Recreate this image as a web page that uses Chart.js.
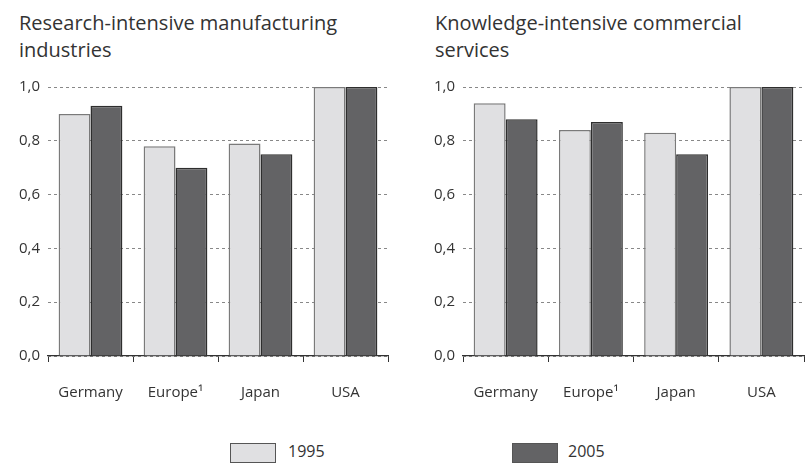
<!DOCTYPE html>
<html><head><meta charset="utf-8">
<script src="https://cdn.jsdelivr.net/npm/chart.js@4/dist/chart.umd.min.js"></script>
<style>
body{margin:0;background:#fff;width:811px;height:465px;position:relative;overflow:hidden;font-family:"Open Sans",sans-serif;color:#333}
.t{position:absolute;font-size:20px;line-height:27px;color:#333}
.c{position:absolute}
.lg{position:absolute;top:443px;height:18px;width:44px;border:1px solid #555}
.lt{position:absolute;top:440px;font-size:16px;color:#333}
</style></head><body>
<div class="t" style="left:19px;top:9px">Research-intensive manufacturing<br>industries</div>
<div class="t" style="left:435px;top:9px">Knowledge-intensive commercial<br>services</div>
<div class="c" style="left:0;top:70px;width:400px;height:336px"><canvas id="c1"></canvas></div>
<div class="c" style="left:415px;top:70px;width:396px;height:336px"><canvas id="c2"></canvas></div>
<div class="lg" style="left:230px;background:#e0e0e2"></div>
<div class="lt" style="left:288px" id="l1"></div>
<div class="lg" style="left:512px;background:#636365"></div>
<div class="lt" style="left:568px" id="l2"></div>
<script>
const categories = ["Germany", "Europe¹", "Japan", "USA"];
const seriesNames = ["1995", "2005"];
const manufacturing1995 = [0.90, 0.78, 0.79, 1.00];
const manufacturing2005 = [0.93, 0.70, 0.75, 1.00];
const services1995 = [0.94, 0.84, 0.83, 1.00];
const services2005 = [0.88, 0.87, 0.75, 1.00];
const yTicks = [0, 0.2, 0.4, 0.6, 0.8, 1.0];

document.getElementById('l1').textContent = seriesNames[0];
document.getElementById('l2').textContent = seriesNames[1];

function make(id, a, b, padRight){
  new Chart(document.getElementById(id), {
    type:'bar',
    data:{labels:categories, datasets:[
      {label:seriesNames[0], data:a, backgroundColor:'#e0e0e2', borderColor:'#7a7a7a', borderWidth:1.5, categoryPercentage:0.75, barPercentage:1.0},
      {label:seriesNames[1], data:b, backgroundColor:'#636365', borderColor:'#2e2e2e', borderWidth:1.5, categoryPercentage:0.75, barPercentage:1.0}
    ]},
    options:{
      responsive:true, maintainAspectRatio:false, animation:false,
      layout:{padding:{top:15,right:padRight,left:0,bottom:0}},
      plugins:{legend:{display:false}, tooltip:{enabled:false}},
      scales:{
        x:{
          grid:{offset:true, drawOnChartArea:false, drawTicks:true, tickLength:6, color:'#333', lineWidth:1},
          border:{display:true, color:'#333', width:1.2},
          ticks:{color:'#333', font:{family:'Open Sans', size:15}, padding:22},
          afterFit:s=>{s.height=50;}
        },
        y:{
          min:0, max:1,
          afterBuildTicks:s=>{s.ticks=yTicks.map(v=>({value:v}));},
          grid:{color:'#888', lineWidth:1, drawTicks:false},
          border:{display:false, dash:[3,3]},
          ticks:{color:'#333', font:{family:'Open Sans', size:15}, padding:8,
            callback:v=>v.toFixed(1).replace('.',',')},
          afterFit:s=>{s.width=48;}
        }
      }
    }
  });
}
make('c1', manufacturing1995, manufacturing2005, 12);
make('c2', services1995, services2005, 7);
</script>
</body></html>
